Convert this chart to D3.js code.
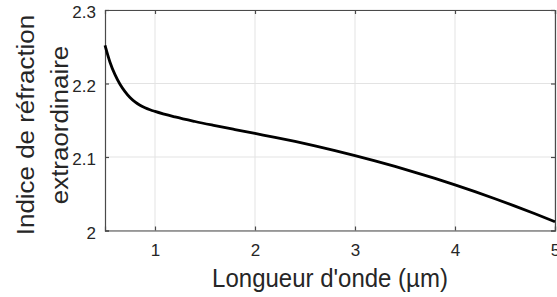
<!DOCTYPE html>
<html><head><meta charset="utf-8">
<script src="https://cdn.jsdelivr.net/npm/d3@7"></script>
<style>body{margin:0;background:#fff}svg{display:block}</style>
</head><body>
<script>
const wavelengths = [0.5,0.55,0.6,0.65,0.7,0.75,0.8,0.85,0.9,0.95,1.0,1.2,1.4,1.6,1.8,2.0,2.2,2.4,2.6,2.8,3.0,3.2,3.4,3.6,3.8,4.0,4.2,4.4,4.6,4.8,5.0];
const indices =     [2.252,2.229,2.212,2.199,2.189,2.181,2.175,2.1705,2.167,2.1643,2.162,2.1545,2.1483,2.1427,2.1373,2.132,2.1268,2.1212,2.1152,2.1088,2.102,2.0948,2.0872,2.0792,2.0708,2.062,2.0528,2.0432,2.0332,2.0228,2.012];
const xTicks = [1,2,3,4,5];
const yTicks = [2,2.1,2.2,2.3];
const xLabel = "Longueur d'onde (µm)";
const yLabelLines = ["Indice de réfraction","extraordinaire"];

const W=557,H=297;
const m={l:105,r:2,t:10,b:66.5};
const SY=1.08;
const svg=d3.select("body").append("svg").attr("width",W).attr("height",H)
  .style("font-family","'Liberation Sans',Arial,sans-serif");
const x=d3.scaleLinear().domain([0.5,5]).range([m.l,W-m.r]);
const y=d3.scaleLinear().domain([2,2.3]).range([H-m.b,m.t]);
const txt="#262626", ax="#4a4a4a";

// grid
svg.append("g").selectAll("line").data(xTicks).join("line")
  .attr("x1",d=>x(d)).attr("x2",d=>x(d)).attr("y1",y(2)).attr("y2",y(2.3))
  .attr("stroke","#e3e3e3").attr("stroke-width",1);
svg.append("g").selectAll("line").data(yTicks).join("line")
  .attr("x1",x(0.5)).attr("x2",x(5)).attr("y1",d=>y(d)).attr("y2",d=>y(d))
  .attr("stroke","#e3e3e3").attr("stroke-width",1);

// axes
const xa=svg.append("g").attr("transform",`translate(0,${y(2)})`)
  .call(d3.axisBottom(x).tickValues(xTicks).tickSize(-4).tickPadding(13).tickFormat(d3.format("d")));
const xt=svg.append("g").attr("transform",`translate(0,${y(2.3)})`)
  .call(d3.axisTop(x).tickValues(xTicks).tickSize(-4).tickFormat(""));
const ya=svg.append("g").attr("transform",`translate(${x(0.5)},0)`)
  .call(d3.axisLeft(y).tickValues(yTicks).tickSize(-4).tickPadding(9).tickFormat(d=>d===2?"2":d3.format(".1f")(d)));
const yr=svg.append("g").attr("transform",`translate(${x(5)},0)`)
  .call(d3.axisRight(y).tickValues(yTicks).tickSize(-4).tickFormat(""));
[xa,xt,ya,yr].forEach(g=>{
  g.select(".domain").attr("stroke",ax).attr("stroke-width",1.2);
  g.selectAll(".tick line").attr("stroke",ax).attr("stroke-width",1.2);
  g.selectAll("text").attr("fill",txt).style("font-size","17px").style("font-family","'Liberation Sans',Arial,sans-serif");
});
ya.selectAll("text").attr("dy","0.45em");

// line
const line=d3.line().x((d,i)=>x(wavelengths[i])).y(d=>y(d)).curve(d3.curveMonotoneX);
svg.append("path").datum(indices).attr("d",line).attr("fill","none")
  .attr("stroke","#000").attr("stroke-width",2.8);

// labels
svg.append("text").attr("transform",`translate(330,287) scale(1,${SY})`).attr("text-anchor","middle")
  .attr("fill",txt).style("font-size","24px").text(xLabel);
const yl=svg.append("text").attr("transform",`translate(0,125) scale(1,${SY}) rotate(-90)`)
  .attr("text-anchor","middle").attr("fill",txt).style("font-size","24px");
yl.selectAll("tspan").data(yLabelLines).join("tspan")
  .attr("x",0).attr("y",(d,i)=>i===0?34:68).text(d=>d);
</script>
</body></html>
